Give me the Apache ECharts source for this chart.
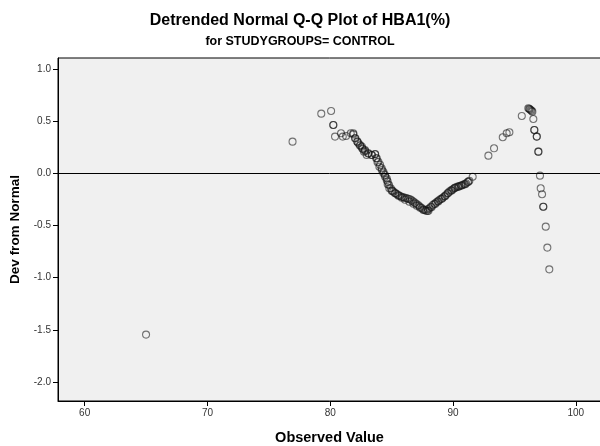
<!DOCTYPE html>
<html>
<head>
<meta charset="utf-8">
<script src="https://cdn.jsdelivr.net/npm/echarts@6/dist/echarts.min.js"></script>
<style>
  html, body { margin: 0; padding: 0; background: #fff; }
  #chart { width: 600px; height: 446px; }
</style>
</head>
<body>
<div id="chart"></div>
<script>
// Observed HBA1(%) values and their deviation from the normal expectation
const observed = [
  65.0, 76.93, 79.27, 80.07, 80.25, 80.25, 80.39, 80.88, 81.02, 81.29,
  81.67, 81.88, 82.05, 82.21, 82.29, 82.43, 82.57, 82.6, 82.75, 82.83,
  82.97, 83.1, 83.38, 83.65, 83.79, 83.92, 84.06, 84.19, 84.33, 84.46,
  84.6, 84.68, 84.79, 84.93, 85.05, 85.14, 85.3, 85.41, 85.55, 85.68,
  85.82, 85.95, 86.1, 86.23, 86.36, 86.5, 86.63, 86.77, 86.9, 87.04,
  87.18, 87.31, 87.45, 87.58, 87.7, 87.8, 87.95, 88.07, 88.2, 88.35,
  88.48, 88.62, 88.75, 88.88, 89.02, 89.16, 89.3, 89.43, 89.56, 89.7,
  89.84, 89.98, 90.1, 90.24, 90.38, 90.51, 90.65, 90.79, 90.92, 91.06,
  91.2, 91.33, 91.6, 92.88, 93.34, 94.05, 94.37, 94.59, 95.6, 96.13,
  96.2, 96.25, 96.33, 96.4, 96.46, 96.54, 96.62, 96.62, 96.82, 96.82,
  96.95, 96.95, 97.08, 97.14, 97.25, 97.35, 97.35, 97.55, 97.68, 97.84,
  // dense middle band
  81.88, 82.02, 82.21, 82.43, 82.65, 82.84, 83.11, 83.39, 83.66, 83.74,
  83.85, 84.0, 84.2, 84.33, 84.47, 84.6, 84.68, 84.81, 85.01, 85.28,
  85.55, 85.82, 86.09, 86.44, 86.77, 87.04, 87.31, 87.58, 87.91, 88.0,
  88.25, 88.55, 88.8, 89.1, 89.35, 89.6, 89.9, 90.15, 90.45, 90.7,
  91.0, 91.25
];
const deviation = [
  -1.545, 0.303, 0.571, 0.597, 0.463, 0.463, 0.351, 0.383, 0.351, 0.357,
  0.383, 0.373, 0.335, 0.303, 0.287, 0.271, 0.255, 0.239, 0.207, 0.223,
  0.175, 0.19, 0.175, 0.185, 0.144, 0.111, 0.08, 0.048, 0.015, -0.016,
  -0.048, -0.08, -0.112, -0.144, -0.165, -0.176, -0.19, -0.198, -0.208, -0.217,
  -0.225, -0.23, -0.236, -0.24, -0.244, -0.249, -0.26, -0.272, -0.283, -0.294,
  -0.307, -0.32, -0.333, -0.345, -0.352, -0.358, -0.345, -0.335, -0.32, -0.304,
  -0.292, -0.281, -0.268, -0.256, -0.245, -0.234, -0.221, -0.208, -0.192, -0.176,
  -0.164, -0.153, -0.143, -0.134, -0.128, -0.122, -0.117, -0.112, -0.104, -0.096,
  -0.084, -0.071, -0.033, 0.169, 0.239, 0.345, 0.383, 0.393, 0.549, 0.623,
  0.618, 0.612, 0.606, 0.598, 0.59, 0.52, 0.415, 0.415, 0.351, 0.351,
  0.207, 0.207, -0.023, -0.144, -0.201, -0.32, -0.32, -0.511, -0.712, -0.92,
  0.383, 0.335, 0.303, 0.264, 0.233, 0.213, 0.191, 0.175, 0.182, 0.144,
  0.105, 0.063, 0.032, 0.0, -0.033, -0.064, -0.105, -0.144, -0.169, -0.192,
  -0.215, -0.234, -0.253, -0.272, -0.291, -0.31, -0.33, -0.352, -0.362, -0.36,
  -0.325, -0.295, -0.27, -0.245, -0.22, -0.19, -0.165, -0.14, -0.13, -0.118,
  -0.105, -0.08
];
const xTicks = [60, 70, 80, 90, 100];
const yTicks = [-2.0, -1.5, -1.0, -0.5, 0.0, 0.5, 1.0];

const points = observed.map((v, i) => [v, deviation[i]]);
const font = '"Liberation Sans", Arial, sans-serif';

const chart = echarts.init(document.getElementById('chart'), null, { renderer: 'canvas' });
chart.setOption({
  animation: false,
  backgroundColor: '#ffffff',
  title: [
    {
      text: 'Detrended Normal Q-Q Plot of HBA1(%)',
      left: 'center', top: 8,
      textStyle: { fontFamily: font, fontSize: 16, fontWeight: 'bold', color: '#000' }
    },
    {
      text: 'for STUDYGROUPS= CONTROL',
      left: 'center', top: 30,
      textStyle: { fontFamily: font, fontSize: 12.5, fontWeight: 'bold', color: '#000' }
    }
  ],
  grid: {
    left: 58, top: 58, right: -1, bottom: 45,
    containLabel: false,
    outerBoundsMode: 'none',
    show: true, backgroundColor: '#f0f0f0', borderColor: '#000', borderWidth: 1
  },
  xAxis: {
    type: 'value',
    min: 57.83, max: 102.05,
    name: 'Observed Value',
    nameLocation: 'middle', nameGap: 29,
    nameTextStyle: { fontFamily: font, fontSize: 14.5, fontWeight: 'bold', color: '#000' },
    axisLine: { show: true, onZero: false, lineStyle: { color: '#000', width: 1 } },
    axisTick: { show: true, inside: false, length: 5, customValues: xTicks, lineStyle: { color: '#000' } },
    axisLabel: { customValues: xTicks, fontFamily: font, fontSize: 10, color: '#333', margin: 7 },
    splitLine: { show: false }
  },
  yAxis: {
    type: 'value',
    min: -2.181, max: 1.104,
    name: 'Dev from Normal',
    nameLocation: 'middle', nameGap: 36,
    nameTextStyle: { fontFamily: font, fontSize: 13.5, fontWeight: 'bold', color: '#000' },
    axisLine: { show: true, onZero: false, lineStyle: { color: '#000', width: 1 } },
    axisTick: { show: true, inside: false, length: 5, customValues: yTicks, lineStyle: { color: '#000' } },
    axisLabel: {
      customValues: yTicks, fontFamily: font, fontSize: 10, color: '#333', margin: 7,
      formatter: v => v.toFixed(1)
    },
    splitLine: { show: false }
  },
  series: [{
    type: 'scatter',
    data: points,
    symbol: 'circle',
    symbolSize: 7,
    itemStyle: { color: 'rgba(0,0,0,0)', borderColor: 'rgba(20,20,20,0.72)', borderWidth: 1.1 },
    emphasis: { disabled: true },
    markLine: {
      silent: true,
      symbol: ['none', 'none'],
      label: { show: false },
      lineStyle: { color: '#000', width: 1, type: 'solid' },
      data: [{ yAxis: 0 }]
    }
  }]
});
</script>
</body>
</html>
